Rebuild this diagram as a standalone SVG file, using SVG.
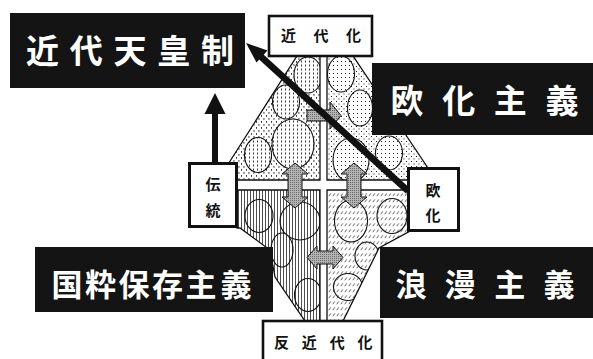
<svg xmlns="http://www.w3.org/2000/svg" width="593" height="359" viewBox="0 0 593 359">
<style>
.blk{fill:#141414}
.wt{fill:#fff;font-family:'Noto Sans CJK JP','Noto Sans CJK SC',sans-serif;font-weight:700}
.bt{fill:#111;font-family:'Noto Sans CJK JP','Noto Sans CJK SC',sans-serif;font-weight:700;font-size:15px}
.wbox{fill:#fff;stroke:#111}
.edge{fill:none;stroke:#111;stroke-width:1.3}
.ell{stroke:#111;stroke-width:1.1}
.gray{fill:url(#pGray);stroke:#111;stroke-width:1}
</style>
<defs>
<pattern id="pUL" width="5" height="6" patternUnits="userSpaceOnUse"><rect width="5" height="6" fill="#fff"/><rect x="1" y="1" width="0.9" height="1.8" fill="#222"/><rect x="3.5" y="4" width="0.9" height="1.8" fill="#222"/></pattern>
<pattern id="pULe" width="4" height="4" patternUnits="userSpaceOnUse"><rect width="4" height="4" fill="#fff"/><rect x="1" y="0.5" width="0.9" height="2" fill="#222"/></pattern>
<pattern id="pUR" width="5" height="5" patternUnits="userSpaceOnUse"><rect width="5" height="5" fill="#fff"/><rect x="1" y="1" width="1" height="1" fill="#222"/><rect x="3.5" y="3.5" width="1" height="1" fill="#222"/></pattern>
<pattern id="pURe" width="4" height="4" patternUnits="userSpaceOnUse"><rect width="4" height="4" fill="#fff"/><rect x="1" y="1" width="1" height="1" fill="#222"/></pattern>
<pattern id="pLL" width="3" height="3" patternUnits="userSpaceOnUse"><rect width="3" height="3" fill="#fff"/><rect x="1" y="0" width="0.8" height="3" fill="#222"/></pattern>
<pattern id="pLR" width="4" height="6" patternUnits="userSpaceOnUse"><rect width="4" height="6" fill="#fff"/><line x1="0.8" y1="4.2" x2="2.8" y2="1.4" stroke="#222" stroke-width="0.7"/></pattern>
<pattern id="pGray" width="2" height="2" patternUnits="userSpaceOnUse"><rect width="2" height="2" fill="#b4b4b4"/><rect width="1" height="1" fill="#6a6a6a"/></pattern>
<clipPath id="cUL"><polygon points="297,56 320,56 320,180 218,180"/></clipPath>
<clipPath id="cUR"><polygon points="327,56 353,56 436,180 327,180"/></clipPath>
<clipPath id="cLL"><polygon points="237,190 320,190 320,321 305,321 275,277 270,250 240,228 237,228"/></clipPath>
<clipPath id="cLR"><polygon points="327,190 410,190 410,231 379,248 343,321 327,321"/></clipPath>
</defs>
<rect width="593" height="359" fill="#fff"/>

<g id="quad-ul">
<polygon points="297,56 320,56 320,180 218,180" fill="url(#pUL)"/>
<g clip-path="url(#cUL)" fill="url(#pULe)" class="ell">
<ellipse cx="308" cy="75" rx="14" ry="18"/>
<ellipse cx="286" cy="102" rx="13.5" ry="17"/>
<ellipse cx="293" cy="144" rx="21" ry="25"/>
<ellipse cx="258" cy="155" rx="13.5" ry="17.5"/>
</g>
<polygon points="297,56 320,56 320,180 218,180" class="edge"/>
</g>

<g id="quad-ur">
<polygon points="327,56 353,56 436,180 327,180" fill="url(#pUR)"/>
<g clip-path="url(#cUR)" fill="url(#pURe)" class="ell">
<ellipse cx="341" cy="74" rx="13.5" ry="18"/>
<ellipse cx="360" cy="108" rx="12.5" ry="18"/>
<ellipse cx="351" cy="160" rx="18" ry="22"/>
<ellipse cx="389" cy="153" rx="13.5" ry="17"/>
</g>
<polygon points="327,56 353,56 436,180 327,180" class="edge"/>
</g>

<g id="quad-ll">
<polygon points="237,190 320,190 320,321 305,321 275,277 270,250 240,228 237,228" fill="url(#pLL)"/>
<g clip-path="url(#cLL)" fill="url(#pLL)" class="ell">
<ellipse cx="259" cy="216" rx="14" ry="16.5"/>
<ellipse cx="300" cy="221" rx="20" ry="19"/>
<ellipse cx="282" cy="250" rx="11" ry="17"/>
<ellipse cx="308" cy="295" rx="13.5" ry="16.5"/>
</g>
<polygon points="237,190 320,190 320,321 305,321 275,277 270,250 240,228 237,228" class="edge"/>
</g>

<g id="quad-lr">
<polygon points="327,190 410,190 410,231 379,248 343,321 327,321" fill="url(#pLR)"/>
<g clip-path="url(#cLR)" fill="url(#pLR)" class="ell">
<ellipse cx="351" cy="221" rx="16.5" ry="21"/>
<ellipse cx="392" cy="216" rx="15" ry="17.5"/>
<ellipse cx="367" cy="256" rx="12" ry="14"/>
<ellipse cx="348" cy="287" rx="14.5" ry="13.5"/>
</g>
<polygon points="327,190 410,190 410,231 379,248 343,321 327,321" class="edge"/>
</g>

<g id="connectors">
<polygon class="gray" points="307,110 330,110 330,102 341,115.5 330,129 330,121 307,121"/>
<polygon class="gray" points="307,257.5 317,246 317,251 333,251 333,246 343,257.5 333,269 333,264 317,264 317,269"/>
<polygon class="gray" points="295,163 308,174 302,174 302,197 308,197 295,208 282,197 288,197 288,174 282,174"/>
<polygon class="gray" points="354,163 367,174 361,174 361,197 367,197 354,208 341,197 347,197 347,174 341,174"/>
<rect x="212" y="110" width="6" height="53" fill="#111"/>
<polygon points="215,93 225.5,114 204.5,114" fill="#111"/>
<line x1="408" y1="191" x2="258" y2="54" stroke="#111" stroke-width="6.5"/>
<polygon points="246,43 267.5,50.5 256.5,62.5" fill="#111"/>
</g>

<g id="n-kindai">
<rect x="269" y="16" width="103" height="40" class="wbox" stroke-width="2.6"/>
<text class="bt" x="288.5 321 353.5" y="41" text-anchor="middle">近代化</text>
</g>
<g id="n-hankindai">
<rect x="263" y="321" width="119" height="45" class="wbox" stroke-width="2.6"/>
<text class="bt" x="281.5 309.3 337.2 365" y="348" text-anchor="middle">反近代化</text>
</g>
<g id="n-dento">
<rect x="189.5" y="163.5" width="47" height="63" class="wbox" stroke-width="3"/>
<text class="bt" x="213" y="190" text-anchor="middle">伝</text>
<text class="bt" x="213" y="216" text-anchor="middle">統</text>
</g>
<g id="n-oka">
<rect x="408.5" y="168.5" width="50" height="62" class="wbox" stroke-width="3"/>
<text class="bt" x="433" y="196" text-anchor="middle">欧</text>
<text class="bt" x="433" y="221" text-anchor="middle">化</text>
</g>

<g id="n-tennosei">
<rect x="10" y="13" width="235" height="75" class="blk"/>
<text class="wt" font-size="33" x="42.5 86.3 130 173.8 217.5" y="63" text-anchor="middle">近代天皇制</text>
</g>
<g id="n-okashugi">
<rect x="372" y="63" width="221" height="72" class="blk"/>
<text class="wt" font-size="33" x="407 458.7 510.3 562" y="113" text-anchor="middle">欧化主義</text>
</g>
<g id="n-kokusui">
<rect x="35" y="247" width="238" height="65" class="blk"/>
<text class="wt" font-size="31" x="67 100.5 134 167.5 201 236" y="296" text-anchor="middle">国粋保存主義</text>
</g>
<g id="n-roman">
<rect x="380" y="247" width="213" height="71" class="blk"/>
<text class="wt" font-size="31" x="411 460.3 509.7 559" y="296" text-anchor="middle">浪漫主義</text>
</g>
</svg>
